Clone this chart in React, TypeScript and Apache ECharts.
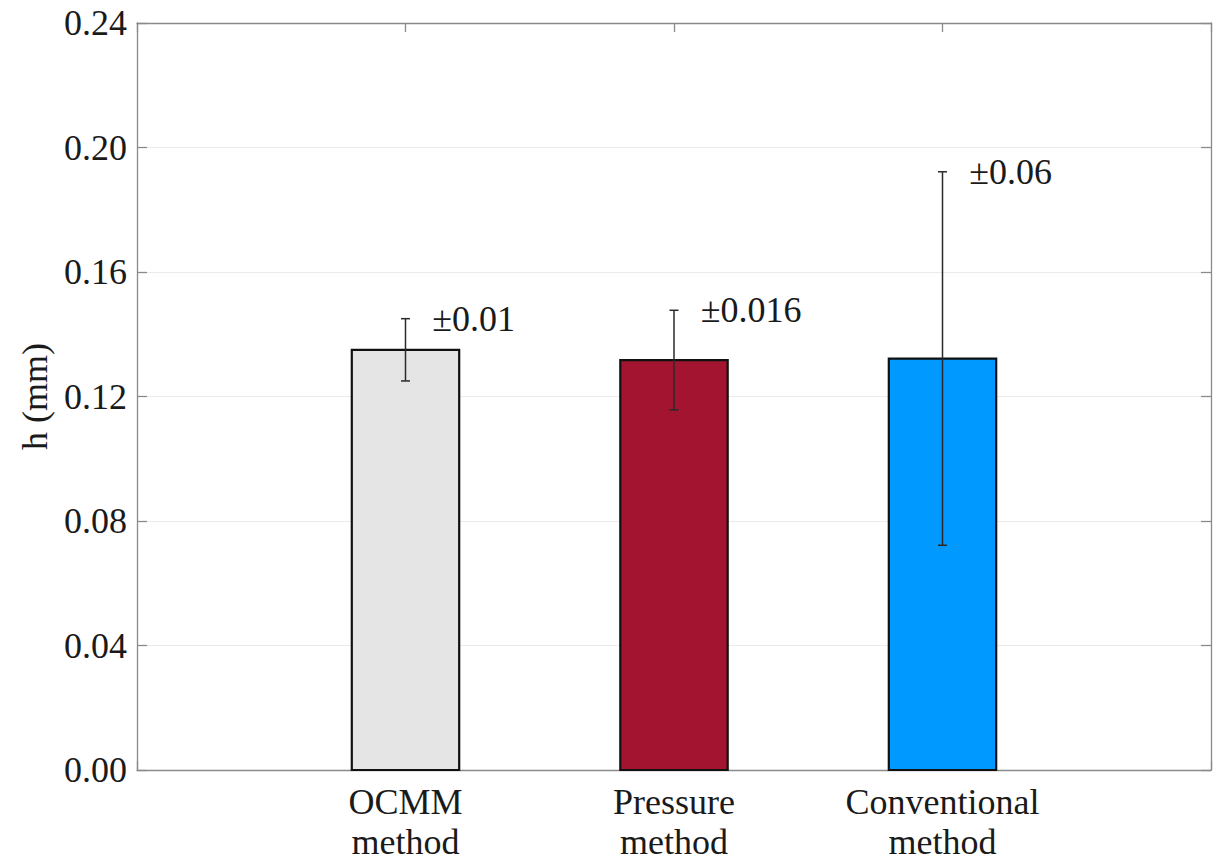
import React, { useEffect, useRef } from "react";
import * as echarts from "echarts";

const categories = ["OCMM\nmethod", "Pressure\nmethod", "Conventional\nmethod"];
const positions = [1, 2, 3];
const values = [0.135, 0.1317, 0.1322];
const errors = [0.01, 0.016, 0.06];
const errorLabels = ["±0.01", "±0.016", "±0.06"];
const barColors = ["#e5e5e5", "#a2142f", "#0099ff"];

const FONT = "'Liberation Serif', 'DejaVu Serif', serif";

export default function App() {
  const ref = useRef<HTMLDivElement>(null);
  useEffect(() => {
    if (!ref.current) return;
    const chart = echarts.init(ref.current, undefined, { renderer: "svg" });
    const data = positions.map((p, i) => [p, values[i], errors[i], i]);
    const axisColor = "#8a8a8a";
    const option: any = {
      animation: false,
      backgroundColor: "#ffffff",
      grid: { left: 137, right: 6, top: 23, bottom: 77, containLabel: false },
      xAxis: [
        {
          type: "value",
          min: 0,
          max: 4,
          interval: 1,
          position: "bottom",
          axisLine: { show: true, onZero: false, lineStyle: { color: axisColor, width: 1.3 } },
          axisTick: { show: true, inside: true, length: 9, lineStyle: { color: axisColor, width: 1.3 } },
          splitLine: { show: false },
          axisLabel: {
            show: true,
            margin: 12,
            color: "#1a1a1a",
            fontFamily: FONT,
            fontSize: 36,
            lineHeight: 40,
            formatter: (v: number) => {
              const idx = positions.indexOf(Math.round(v));
              return idx >= 0 ? categories[idx] : "";
            },
          },
        },
        {
          type: "value",
          min: 0,
          max: 4,
          interval: 1,
          position: "top",
          axisLine: { show: true, onZero: false, lineStyle: { color: axisColor, width: 1.3 } },
          axisTick: { show: true, inside: true, length: 9, lineStyle: { color: axisColor, width: 1.3 } },
          splitLine: { show: false },
          axisLabel: { show: false },
        },
      ],
      yAxis: [
        {
          type: "value",
          min: 0,
          max: 0.24,
          interval: 0.04,
          position: "left",
          name: "h (mm)",
          nameLocation: "middle",
          nameGap: 80,
          nameTextStyle: { color: "#1a1a1a", fontFamily: FONT, fontSize: 36 },
          axisLine: { show: true, onZero: false, lineStyle: { color: axisColor, width: 1.3 } },
          axisTick: { show: true, inside: true, length: 10, lineStyle: { color: axisColor, width: 1.3 } },
          splitLine: { show: true, lineStyle: { color: "#ebebeb", width: 1.2 } },
          axisLabel: {
            margin: 10,
            color: "#1a1a1a",
            fontFamily: FONT,
            fontSize: 36,
            formatter: (v: number) => v.toFixed(2),
          },
        },
        {
          type: "value",
          min: 0,
          max: 0.24,
          interval: 0.04,
          position: "right",
          axisLine: { show: true, onZero: false, lineStyle: { color: axisColor, width: 1.3 } },
          axisTick: { show: true, inside: true, length: 10, lineStyle: { color: axisColor, width: 1.3 } },
          splitLine: { show: false },
          axisLabel: { show: false },
        },
      ],
      series: [
        {
          type: "custom",
          xAxisIndex: 0,
          yAxisIndex: 0,
          data,
          clip: false,
          renderItem: (params: any, api: any) => {
            const x = api.value(0);
            const v = api.value(1);
            const e = api.value(2);
            const i = api.value(3);
            const tl = api.coord([x - 0.2, v]);
            const br = api.coord([x + 0.2, 0]);
            const c = api.coord([x, v]);
            const top = api.coord([x, v + e]);
            const bot = api.coord([x, v - e]);
            const capHalf = 4.5;
            const labelPos = api.coord([x + 0.1, v + e]);
            const errStyle = { stroke: "#2a2a2a", lineWidth: 1.5 };
            return {
              type: "group",
              children: [
                {
                  type: "rect",
                  shape: { x: tl[0], y: tl[1], width: br[0] - tl[0], height: br[1] - tl[1] },
                  style: { fill: barColors[i], stroke: "#111111", lineWidth: 2.2 },
                },
                { type: "line", shape: { x1: c[0], y1: top[1], x2: c[0], y2: bot[1] }, style: errStyle },
                { type: "line", shape: { x1: c[0] - capHalf, y1: top[1], x2: c[0] + capHalf, y2: top[1] }, style: errStyle },
                { type: "line", shape: { x1: c[0] - capHalf, y1: bot[1], x2: c[0] + capHalf, y2: bot[1] }, style: errStyle },
                {
                  type: "text",
                  x: labelPos[0],
                  y: labelPos[1],
                  style: {
                    text: errorLabels[i],
                    fill: "#1a1a1a",
                    font: `36px ${FONT}`,
                    align: "left",
                    verticalAlign: "middle",
                  },
                },
              ],
            };
          },
        },
      ],
    };
    chart.setOption(option);
    return () => chart.dispose();
  }, []);
  return <div ref={ref} style={{ position: "fixed", left: 0, top: 0, width: 1217, height: 862 }} />;
}
